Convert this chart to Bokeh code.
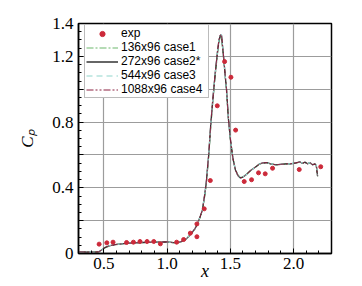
from bokeh.plotting import figure
from bokeh.models import Range1d, FixedTicker, Legend, LegendItem
from bokeh.embed import file_html
from bokeh.resources import INLINE

# ---------------- data ----------------
exp_x = [0.463, 0.524, 0.573, 0.680, 0.734, 0.786, 0.842, 0.895, 0.947, 1.076,
         1.131, 1.184, 1.236, 1.236, 1.294, 1.342, 1.397, 1.455, 1.505, 1.542,
         1.610, 1.668, 1.723, 1.776, 1.834, 2.045, 2.215]
exp_cp = [0.057, 0.065, 0.069, 0.067, 0.069, 0.073, 0.073, 0.073, 0.059, 0.069,
          0.085, 0.124, 0.102, 0.180, 0.272, 0.444, 0.899, 1.168, 1.073, 0.751,
          0.438, 0.449, 0.491, 0.485, 0.519, 0.511, 0.528]

x_sim = [0.30, 0.40, 0.46, 0.48, 0.50, 0.52, 0.55, 0.60, 0.70, 0.80,
         0.90, 1.00, 1.05, 1.08, 1.11, 1.14, 1.16, 1.19, 1.22, 1.24,
         1.26, 1.28, 1.30, 1.31, 1.33, 1.345, 1.36, 1.38, 1.40, 1.41,
         1.42, 1.43, 1.44, 1.45, 1.46, 1.47, 1.485, 1.50, 1.52, 1.54,
         1.56, 1.58, 1.60, 1.63, 1.66, 1.70, 1.73, 1.76, 1.79, 1.82,
         1.86, 1.90, 1.94, 1.98, 2.02, 2.05, 2.07, 2.09, 2.11, 2.13,
         2.15, 2.17, 2.18, 2.185, 2.19]

cp_case1 = [0.010, 0.009, 0.010, 0.020, 0.030, 0.038, 0.047, 0.054, 0.062, 0.066,
            0.068, 0.070, 0.066, 0.065, 0.071, 0.082, 0.093, 0.118, 0.150, 0.178,
            0.218, 0.262, 0.360, 0.420, 0.600, 0.765, 0.910, 1.080, 1.225, 1.285,
            1.315, 1.320, 1.245, 1.160, 1.075, 0.990, 0.815, 0.700, 0.585, 0.512,
            0.478, 0.462, 0.467, 0.484, 0.504, 0.527, 0.544, 0.550, 0.551, 0.545,
            0.540, 0.542, 0.545, 0.546, 0.551, 0.556, 0.548, 0.554, 0.546, 0.552,
            0.541, 0.544, 0.534, 0.500, 0.470]
cp_case2 = [0.010, 0.008, 0.010, 0.020, 0.032, 0.040, 0.048, 0.055, 0.063, 0.067,
            0.069, 0.071, 0.066, 0.065, 0.072, 0.083, 0.095, 0.120, 0.150, 0.180,
            0.220, 0.265, 0.370, 0.430, 0.607, 0.780, 0.920, 1.090, 1.235, 1.295,
            1.325, 1.330, 1.250, 1.170, 1.080, 1.000, 0.820, 0.700, 0.580, 0.510,
            0.475, 0.460, 0.465, 0.483, 0.505, 0.527, 0.545, 0.552, 0.553, 0.545,
            0.540, 0.543, 0.545, 0.546, 0.552, 0.558, 0.548, 0.556, 0.546, 0.553,
            0.540, 0.545, 0.535, 0.500, 0.470]
cp_case3 = [0.010, 0.008, 0.010, 0.021, 0.032, 0.040, 0.048, 0.055, 0.063, 0.067,
            0.069, 0.071, 0.066, 0.065, 0.072, 0.083, 0.095, 0.120, 0.151, 0.181,
            0.221, 0.266, 0.372, 0.432, 0.610, 0.782, 0.922, 1.092, 1.238, 1.298,
            1.328, 1.333, 1.254, 1.172, 1.082, 1.002, 0.822, 0.702, 0.581, 0.510,
            0.474, 0.459, 0.464, 0.482, 0.505, 0.527, 0.545, 0.552, 0.553, 0.545,
            0.541, 0.543, 0.545, 0.547, 0.552, 0.557, 0.549, 0.555, 0.547, 0.553,
            0.541, 0.545, 0.536, 0.505, 0.475]
cp_case4 = [0.010, 0.008, 0.010, 0.021, 0.032, 0.040, 0.048, 0.055, 0.063, 0.067,
            0.069, 0.071, 0.066, 0.065, 0.072, 0.083, 0.095, 0.121, 0.151, 0.181,
            0.222, 0.267, 0.373, 0.433, 0.612, 0.784, 0.924, 1.094, 1.240, 1.300,
            1.330, 1.335, 1.256, 1.174, 1.084, 1.004, 0.824, 0.703, 0.582, 0.510,
            0.474, 0.459, 0.464, 0.482, 0.505, 0.527, 0.545, 0.552, 0.553, 0.545,
            0.541, 0.543, 0.545, 0.547, 0.552, 0.557, 0.549, 0.555, 0.547, 0.553,
            0.541, 0.545, 0.536, 0.505, 0.475]

x_ticks = [0.5, 1.0, 1.5, 2.0]
x_tick_labels = ["0.5", "1.0", "1.5", "2.0"]
y_ticks = [0.0, 0.2, 0.4, 0.6, 0.8, 1.0, 1.2, 1.4]
y_tick_labels = ["0", "", "0.4", "", "0.8", "", "1.2", "1.4"]
x_minor = [0.3, 0.4, 0.6, 0.7, 0.8, 0.9, 1.1, 1.2, 1.3, 1.4, 1.6, 1.7, 1.8,
           1.9, 2.1, 2.2, 2.3]
y_minor = [0.05, 0.1, 0.15, 0.25, 0.3, 0.35, 0.45, 0.5, 0.55, 0.65, 0.7, 0.75,
           0.85, 0.9, 0.95, 1.05, 1.1, 1.15, 1.25, 1.3, 1.35]

legend_labels = ["exp", "136x96 case1", "272x96 case2*", "544x96 case3", "1088x96 case4"]

# ---------------- figure ----------------
p = figure(width=362, height=286, x_range=Range1d(0.3, 2.3), y_range=Range1d(0.0, 1.4),
           output_backend="svg", toolbar_location=None,
           min_border_left=78, min_border_right=31, min_border_top=23, min_border_bottom=33)
p.background_fill_color = "white"
p.border_fill_color = "white"
p.outline_line_color = "black"
p.outline_line_width = 1.5

serif = "Liberation Serif"
for ax in (p.xaxis[0], p.yaxis[0]):
    ax.axis_line_color = "black"
    ax.axis_line_width = 1.5
    ax.major_tick_in = 5
    ax.major_tick_out = 0
    ax.minor_tick_in = 3
    ax.minor_tick_out = 0
    ax.major_tick_line_color = "black"
    ax.minor_tick_line_color = "black"
    ax.major_label_text_font = serif
    ax.major_label_text_font_size = "17px"
    ax.major_label_text_font_style = "normal"
    ax.major_label_text_color = "black"
    ax.axis_label_text_font = serif
    ax.axis_label_text_font_style = "italic"
    ax.axis_label_text_color = "black"

p.xaxis.ticker = FixedTicker(ticks=x_ticks, minor_ticks=x_minor)
p.yaxis.ticker = FixedTicker(ticks=y_ticks, minor_ticks=y_minor)
p.xaxis.major_label_overrides = {t: s for t, s in zip(x_ticks, x_tick_labels)}
p.yaxis.major_label_overrides = {t: s for t, s in zip(y_ticks, y_tick_labels)}
p.xaxis.major_label_standoff = 4
p.yaxis.major_label_standoff = 5

p.xaxis.axis_label = "x"
p.xaxis.axis_label_text_font_size = "18px"
p.xaxis.axis_label_standoff = -11
p.yaxis.axis_label = "C\u209a"
p.yaxis.axis_label_text_font_size = "17px"
p.yaxis.axis_label_standoff = 12

p.xgrid.ticker = FixedTicker(ticks=x_ticks)
p.ygrid.ticker = FixedTicker(ticks=y_ticks[1:-1])
for g in (p.xgrid[0], p.ygrid[0]):
    g.grid_line_color = "#9c9c9c"
    g.grid_line_width = 1.2

r1 = p.line(x_sim, cp_case1, line_color="#6cb86c", line_width=1.2, line_dash="7 2 2 2")
r2 = p.line(x_sim, cp_case2, line_color="#333333", line_width=1.3)
r3 = p.line(x_sim, cp_case3, line_color="#8fd6cc", line_width=1.2, line_dash="6 4")
r4 = p.line(x_sim, cp_case4, line_color="#8b2040", line_width=1.0, line_dash="7 2 2 2 2 2")
r0 = p.scatter(exp_x, exp_cp, size=4, fill_color="#cc2a3a", line_color="#cc2a3a")

legend = Legend(items=[LegendItem(label=legend_labels[0], renderers=[r0]),
                       LegendItem(label=legend_labels[1], renderers=[r1]),
                       LegendItem(label=legend_labels[2], renderers=[r2]),
                       LegendItem(label=legend_labels[3], renderers=[r3]),
                       LegendItem(label=legend_labels[4], renderers=[r4])],
                location=(6, 155))
legend.label_text_font = "Liberation Sans"
legend.label_text_font_size = "12px"
legend.label_text_color = "black"
legend.label_height = 13
legend.glyph_height = 13
legend.glyph_width = 32
legend.label_width = 86
legend.label_standoff = 3
legend.spacing = -3
legend.padding = 1
legend.margin = 0
legend.border_line_color = "#777777"
legend.border_line_width = 1
legend.background_fill_color = "white"
legend.background_fill_alpha = 1.0
p.add_layout(legend)

open("out.html", "w").write(file_html(p, INLINE))
